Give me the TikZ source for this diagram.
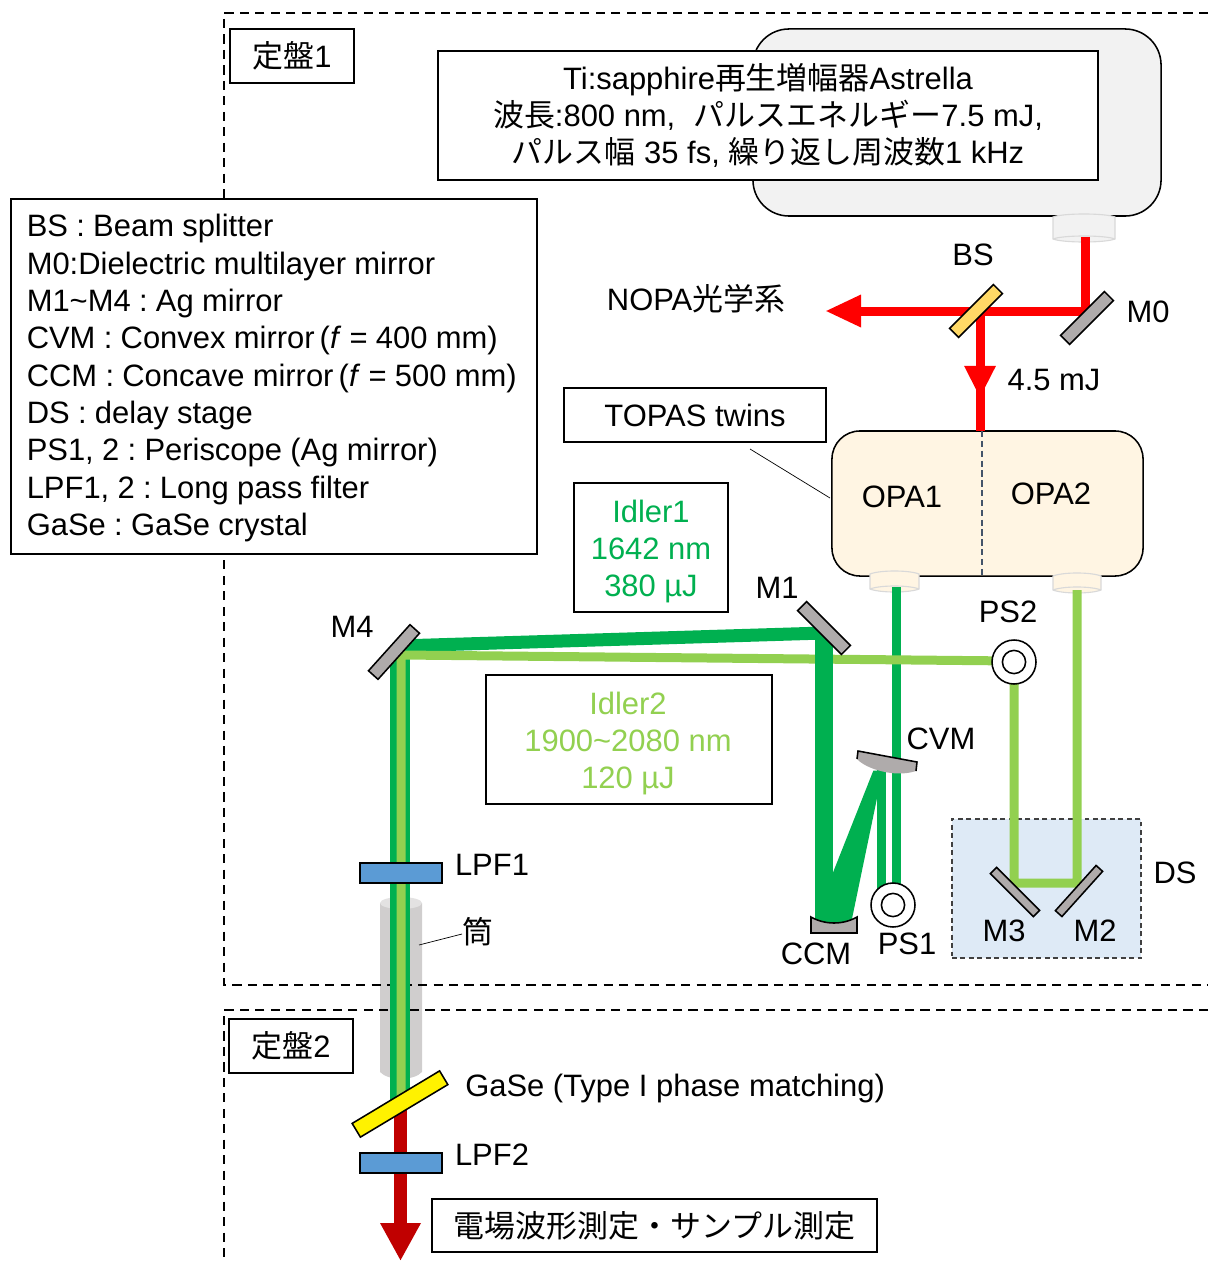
\documentclass[tikz,border=0pt]{standalone}
\usepackage{fontspec}
\setmainfont{Liberation Sans}
\newfontfamily\jp{Noto Sans CJK JP}
\usetikzlibrary{arrows.meta}
\definecolor{beamred}{HTML}{FF0000}
\definecolor{beamdark}{HTML}{C00000}
\definecolor{idlerone}{HTML}{00B050}
\definecolor{idlertwo}{HTML}{92D050}
\definecolor{mirrorgray}{HTML}{AFABAB}
\definecolor{bsyellow}{HTML}{FFD966}
\definecolor{lpfblue}{HTML}{5B9BD5}
\definecolor{opacream}{HTML}{FFF5E3}
\definecolor{stageblue}{HTML}{DEEAF6}
\definecolor{tubegray}{HTML}{D0CECE}
\definecolor{slatedash}{HTML}{44546A}
\tikzset{
  labeltext/.style={inner sep=0pt},
  textbox/.style={draw, fill=white, line width=1.1pt, inner sep=0pt, align=center},
  optic/.style={draw, line width=1.1pt, inner sep=0pt, minimum width=1.55cm, minimum height=0.32cm},
  ps ring/.style={draw, circle, fill=white, line width=1.1pt, inner sep=0pt},
  table line/.style={line width=1.1pt, dash pattern=on 6.5pt off 4.5pt},
  beam one/.style={idlerone, line width=6.4pt},
  beam two/.style={idlertwo, line width=6.4pt}
}
\begin{document}
\begin{tikzpicture}[x=0.025cm, y=-0.025cm,
    every node/.style={font=\fontsize{22pt}{26.55pt}\selectfont\frenchspacing}]
  \useasboundingbox (0,0) rectangle (1208,1280);
  % Tubo
  \fill[tubegray] (380,903) -- (422,903) -- (422,1072) .. controls (414,1081) and (388,1081) .. (380,1072) -- cycle;
  \fill[tubegray!60] (401,903) ellipse [x radius=21, y radius=6];
  % Mesas
  \coordinate (t1a) at (1208,13);  \coordinate (t1b) at (224,13);
  \coordinate (t1c) at (224,985);  \coordinate (t1d) at (1208,985);
  \coordinate (t2a) at (1208,1010); \coordinate (t2b) at (224,1010);
  \coordinate (t2c) at (224,1258);
  \draw[table line] (t1a) -- (t1b) -- (t1c) -- (t1d);
  \draw[table line] (t2a) -- (t2b) -- (t2c);
  \node[textbox, minimum width=3.1cm, minimum height=1.35cm] (table1) at (292,56) {{\jp 定盤}1};
  \node[textbox, minimum width=3.1cm, minimum height=1.35cm] (table2) at (291,1046) {{\jp 定盤}2};
  % Leyenda
  \node[textbox, align=left, anchor=north west, text width=12.35cm, minimum height=8.875cm,
    inner xsep=0.4cm] (legend) at (10,198) {\spaceskip=0.268em
    \rule{0pt}{18.7pt}BS : Beam splitter\\
    M0:Dielectric multilayer mirror\\
    M1\textasciitilde M4 : Ag mirror\\
    CVM : Convex mirror\,(\textit{f} = 400 mm)\\
    CCM : Concave mirror\,(\textit{f} = 500 mm)\\
    DS : delay stage\\
    PS1, 2 : Periscope (Ag mirror)\\
    LPF1, 2 : Long pass filter\\
    GaSe : GaSe crystal};
  % Laser y OPA
  \node[draw, fill=gray!10, rounded corners=0.9cm, line width=1.1pt, minimum width=10.2cm,
    minimum height=4.675cm] (laser) at (957,122.5) {};
  \node[textbox, minimum width=16.5cm, minimum height=3.225cm] (laserbox) at (768,115.5)
    {Ti:sapphire{\jp 再生増幅器}Astrella\\
     {\jp 波長}:800 nm,\hspace{0.25cm} {\jp パルスエネルギー}7.5 mJ,\\
     {\jp パルス幅} 35 fs, {\jp 繰り返し周波数}1 kHz};
  \node[draw, fill=opacream, rounded corners=0.7cm, line width=1.1pt, minimum width=7.775cm,
    minimum height=3.625cm] (opa) at (987.5,503.5) {};
  \coordinate (opatop) at (982,431); \coordinate (opabot) at (982,576);
  \draw[slatedash, line width=1.4pt, dash pattern=on 4.5pt off 2.5pt] (opatop) -- (opabot);
  \foreach \xl/\xr/\yt/\yb/\col in {1053/1115/214/242/gray!10, 870/919/571/592/opacream, 1053/1101/573/593/opacream} {
    \draw[gray!30, fill=\col, line width=0.8pt] (\xl,\yt+3) .. controls (\xl+10,\yt-1) and (\xr-10,\yt-1) .. (\xr,\yt+3)
      -- (\xr,\yb-3) .. controls (\xr-10,\yb+1) and (\xl+10,\yb+1) .. (\xl,\yb-3) -- cycle;
    \draw[gray!30, line width=0.8pt] (\xl,\yb-3) .. controls (\xl+10,\yb-7) and (\xr-10,\yb-7) .. (\xr,\yb-3);
  }
  \node[textbox, minimum width=6.55cm, minimum height=1.35cm] (topas) at (695,415) {TOPAS twins};
  \coordinate (topasa) at (750,449); \coordinate (topasb) at (830,498);
  \draw[line width=0.5pt] (topasa) -- (topasb);
  % Etapa de retardo
  \node[draw=black!75, fill=stageblue, line width=1.1pt, dash pattern=on 3.5pt off 2.5pt,
    minimum width=4.725cm, minimum height=3.475cm] (stage) at (1046.5,888.5) {};
  % Haz rojo
  \coordinate (lasout) at (1085,237); \coordinate (m0hit) at (1085,311);
  \coordinate (bshit) at (980,311);   \coordinate (nopatip) at (825,311);
  \coordinate (redmid) at (980,398);  \coordinate (opain) at (980,431);
  \draw[beamred, line width=6.4pt] (lasout) -- (m0hit) -- (bshit);
  \draw[beamred, line width=6.4pt, -{Triangle[length=0.9cm, width=0.75cm]}] (bshit) -- (nopatip);
  \draw[beamred, line width=6.4pt] (bshit) -- (opain);
  \draw[beamred, line width=6.4pt, -{Triangle[length=0.8cm, width=0.73cm]}] (bshit) -- (redmid);
  % Haz Idler1
  \coordinate (one0) at (896,587);  \coordinate (one1) at (896,890);
  \coordinate (one2) at (881,765);  \coordinate (one3) at (881,890);
  \coordinate (m1hit) at (824,633); \coordinate (m4hit) at (398,646);
  \coordinate (m4low) at (400,650); \coordinate (gase) at (400,1104);
  \coordinate (m1top) at (824,630); \coordinate (ccmhit) at (824,926);
  \coordinate (w1) at (873.3,770.7); \coordinate (w2) at (882.7,770.7);
  \coordinate (w3) at (850.5,926); \coordinate (w4) at (832,926);
  \coordinate (w5) at (832,875);
  \draw[beam one] (one0) -- (one1);
  \draw[beam one] (one2) -- (one3);
  \fill[idlerone] (w1) -- (w2) -- (w3) -- (w4) -- (w5) -- cycle;
  \draw[idlerone, line width=9.25pt] (m1hit) -- (m4hit);
  \draw[idlerone, line width=14.9pt] (m4low) -- (gase);
  % Haz Idler2
  \coordinate (two0) at (1077,590); \coordinate (two1) at (1077,883);
  \coordinate (two2) at (1014,883); \coordinate (two3) at (1014,661);
  \coordinate (two4) at (401,655);  \coordinate (two5) at (401,1104);
  \draw[beam two] (two0) -- (two1) -- (two2) -- (two3) -- (two4) -- (two5);
  \draw[idlerone, line width=12.8pt] (m1top) -- (ccmhit);
  % Haz THz
  \coordinate (thzin) at (400.5,1104); \coordinate (thztip) at (400.5,1261);
  \draw[beamdark, line width=9.25pt, -{Triangle[length=0.95cm, width=0.95cm]}] (thzin) -- (thztip);
  % Espejos y filtros
  \foreach \name/\px/\py/\ang/\col in {bs/976/311/45/bsyellow, m0/1087/318/45/mirrorgray,
      m1/824/628/-45/mirrorgray, m4/394/652/48/mirrorgray} {
    \node[optic, fill=\col, rotate=\ang] (\name) at (\px,\py) {};
  }
  \foreach \name/\px/\py/\ang in {m3/1015/892/-45, m2/1079/891/48} {
    \node[optic, fill=mirrorgray, rotate=\ang, minimum height=0.22cm, minimum width=1.52cm] (\name) at (\px,\py) {};
  }
  \foreach \name/\py in {lpf1/873, lpf2/1163} {
    \node[optic, fill=lpfblue, minimum width=2.05cm, minimum height=0.5cm] (\name) at (401,\py) {};
  }
  \node[optic, fill=yellow, rotate=31, minimum width=2.55cm, minimum height=0.4cm] (crystal) at (400,1104) {};
  % Espejos curvos
  \fill[mirrorgray] (858,751) -- (917,762) -- (916,771) .. controls (895,778) and (866,769) .. (857,759) -- cycle;
  \draw[line width=1.1pt] (857,759) -- (858,751) -- (917,762) -- (916,771);
  \draw[fill=mirrorgray, line width=1.1pt] (811,917) .. controls (825,925) and (843,925) .. (857,917)
    -- (857,933) -- (811,933) -- cycle;
  % Periscopios
  \foreach \name/\px/\py in {ps1/893/905, ps2/1014/662} {
    \node[ps ring, minimum size=1.1cm] (\name) at (\px,\py) {};
    \node[ps ring, minimum size=0.58cm] (\name in) at (\px,\py) {};
  }
  % Cuadros de Idler
  \node[textbox, minimum width=3.85cm, minimum height=3.225cm] (idlerbox1) at (651,547.5) {};
  \node[labeltext, text=idlerone, align=center] (idlertext1) at (651,551.5) {Idler1\\1642 nm\\380 µJ};
  \node[textbox, minimum width=7.15cm, minimum height=3.225cm] (idlerbox2) at (629,739.5) {};
  \node[labeltext, text=idlertwo, align=center] (idlertext2) at (628,743.5) {Idler2\\1900\textasciitilde 2080 nm\\120 µJ};
  % Etiquetas
  \foreach \name/\px/\py/\txt in {lbs/973/255/BS, lm0/1148/312/M0, lmj/1054/380/4.5 mJ, lopa1/902/497/OPA1,
      lopa2/1051/494/OPA2, lm1/777/588/M1, lm4/352/627/M4, lps2/1008/612/PS2, lcvm/941/739/CVM,
      lds/1175/873/DS, lm3/1004/931/M3, lm2/1095/931/M2, lps1/907/944/PS1, lccm/816/954/CCM,
      llpf1/492/865/LPF1, llpf2/492/1155/LPF2} {
    \node[labeltext] (\name) at (\px,\py) {\txt};
  }
  \node[labeltext] (lnopa) at (696,299) {NOPA{\jp 光学系}};
  \node[labeltext] (ltube) at (478,932) {\jp 筒};
  \coordinate (tubehit) at (419,945); \coordinate (tubeend) at (462,934);
  \draw[line width=0.5pt] (tubehit) -- (tubeend);
  \node[labeltext, anchor=west] (lgase) at (465,1088) {GaSe (Type I phase matching)};
  \node[textbox, minimum width=11.125cm, minimum height=1.325cm] (measure) at (654.5,1225.5)
    {\jp 電場波形測定・サンプル測定};
\end{tikzpicture}
\end{document}
